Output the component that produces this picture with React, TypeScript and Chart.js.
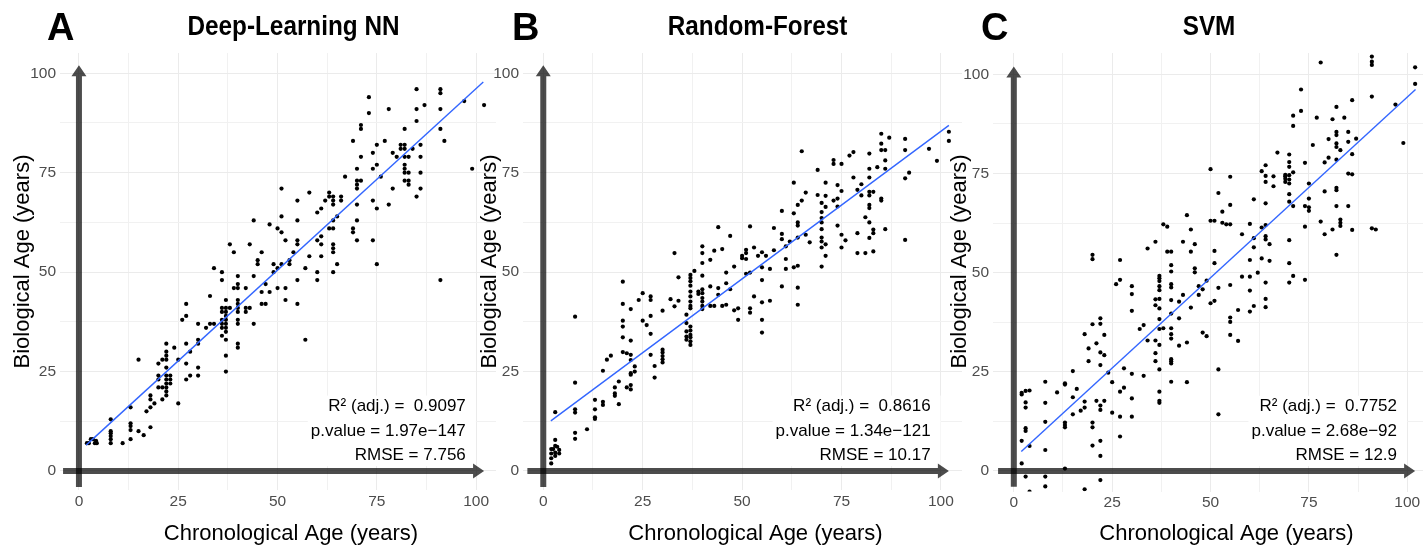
import React, { useEffect, useRef } from 'react';
import { Chart, registerables } from 'chart.js';

Chart.register(...registerables);

const FONT = '"Liberation Sans", Arial, Helvetica, sans-serif';
const PAGE_W = 1427;
const PAGE_H = 547;

const panelLetters = ['A', 'B', 'C'];
const panelTitles = ['Deep-Learning NN', 'Random-Forest', 'SVM'];
const xAxisTitle = 'Chronological Age (years)';
const yAxisTitle = 'Biological Age (years)';
const gridValues = [0, 12.5, 25, 37.5, 50, 62.5, 75, 87.5, 100];
const labelledTicks = [0, 25, 50, 75, 100];

// Deep-Learning NN: [chronological age, biological age]
const dnnPoints: [number, number][] = [
  [2, 7], [2.5, 7], [3, 8], [3.5, 8], [4, 7], [4.3, 7.6], [4.5, 7],
  [8, 13], [8, 10], [8, 9.5], [8, 8.8], [8, 8], [8, 7], [11, 7],
  [13, 16], [13, 12], [13, 11.3], [13, 10.3], [13, 8],
  [15, 28], [15, 10], [16.3, 9], [17, 15],
  [18, 19], [18, 18], [18, 16], [18, 11], [19, 17],
  [20, 27], [20, 24], [20, 23], [20, 21], [21, 21], [21, 18], [21, 28],
  [22, 32], [22, 30], [22, 29], [22, 28], [22, 26], [22, 24], [22, 23], [22, 22], [22, 21], [22, 20], [22, 19],
  [23, 24], [23, 23], [23, 22], [24, 31], [25, 17], [25, 28], [26, 38],
  [27, 42], [27, 39], [27, 32], [27, 27], [27, 23], [28, 24], [28, 30],
  [30, 37], [30, 33], [30, 32], [30, 26], [30, 24], [32, 36], [33, 44], [33, 37], [34, 37], [34, 51],
  [36, 50], [36, 48], [36, 41], [36, 40], [36, 38], [36, 37], [36, 36], [36, 34],
  [37, 43], [37, 41], [37, 40], [37, 39], [37, 38], [37, 37], [37, 36], [37, 35], [37, 33], [37, 29], [37, 25],
  [38, 57], [38, 41], [39, 55], [39, 46],
  [40, 49], [40, 47], [40, 46], [40, 43], [40, 42], [40, 41], [40, 40], [40, 38], [40, 37], [40, 32], [40, 31],
  [42, 46], [42, 41], [42, 40], [43, 41], [43, 57], [44, 63], [44, 49], [44, 37], [45, 53], [45, 52],
  [46, 55], [46, 45], [46, 42], [47, 42], [47, 47], [48, 62], [48, 45], [49, 52], [49, 50],
  [50, 61], [50, 51], [50, 46], [51, 64], [51, 60], [51, 52], [52, 58], [52, 46], [52, 43],
  [53, 53], [53, 52], [54, 55], [55, 68], [55, 63], [55, 58], [55, 57], [55, 48], [55, 42],
  [57, 33], [57, 51], [58, 54], [60, 65], [60, 58], [60, 50], [60, 48], [61, 66], [61, 59], [61, 57], [61, 54],
  [62, 68], [64, 68], [64, 67], [64, 63], [64, 61], [64, 57], [64, 56], [64, 55], [64, 50], [63, 61],
  [65, 64], [65, 52], [66, 68], [69, 61], [69, 60], [70, 67], [70, 63], [70, 58], [74, 68], [74, 58],
  [75, 66], [75, 52], [78, 67], [91, 48],
  [51, 71], [58, 70], [63, 70], [63, 69], [64, 69], [66, 69], [67, 74], [69, 83],
  [70, 76], [70, 73], [70, 72], [70, 71], [71, 73], [71, 79], [71, 87], [71, 86], [73, 94], [73, 90],
  [74, 80], [74, 76], [75, 82], [75, 77], [76, 74], [77, 83], [78, 91], [79, 80], [79, 71], [80, 79],
  [81, 82], [81, 81], [82, 86], [82, 82], [82, 81], [82, 79], [82, 77], [82, 76], [82, 75], [82, 73],
  [83, 79], [83, 75], [83, 73], [83, 72], [84, 81], [85, 96], [85, 91], [85, 88], [85, 69],
  [86, 82], [86, 79], [86, 75], [86, 71], [87, 92], [91, 96], [91, 95], [91, 91], [91, 86], [92, 83],
  [97, 93], [99, 76], [102, 92],
];

// Random-Forest
const rfPoints: [number, number][] = [
  [2, 5.5], [2, 4.4], [2, 3.2], [2, 1.9], [2.5, 5.5], [3, 3.8], [3, 6.3], [3, 7.8], [3, 4.6], [3.5, 6.1], [4, 5.3], [4, 4.4], [3, 14.8],
  [8, 38.8], [8, 22.2], [8, 15.5], [8, 14.7], [8, 9.6], [8, 8.1], [11, 10.5],
  [13, 17.9], [13, 15.5], [13, 13.5], [13, 13.1], [15, 25.2], [15, 17.4], [15, 16.6], [16, 28], [17, 29],
  [18, 21], [18, 19.5], [18, 18.9], [19, 16.8], [19, 22.5],
  [20, 47.6], [20, 42], [20, 37.8], [20, 36.3], [20, 33.6], [20, 29.9], [21, 29.6], [21, 21],
  [22, 40.7], [22, 32.8], [22, 29.2], [22, 27.9], [22, 24.6], [22, 24.2], [22, 21.6], [22, 20.5],
  [23, 26.3], [23, 25], [24, 43], [25, 44.7], [25, 37.8], [26, 36.7],
  [27, 43.9], [27, 43], [27, 39], [27, 34.5], [27, 29.2], [28, 26.4], [28, 23.5],
  [30, 40.3], [30, 30.5], [30, 29.8], [30, 28.9], [30, 28.1], [30, 27.3], [32, 43.2], [33, 54.8], [33, 41.4],
  [34, 48.7], [34, 42.8], [36, 39.3], [36, 37.2], [36, 35.1], [36, 33.8], [36, 33],
  [37, 49.3], [37, 48.5], [37, 47.7], [37, 46.6], [37, 45.1], [37, 43.9], [37, 42.6], [37, 41.5], [37, 40.9],
  [37, 36.3], [37, 35.3], [37, 34.2], [37, 33.6], [37, 32.6], [37, 31.7], [38, 50.3], [39, 45.1], [39, 44.5],
  [40, 56.5], [40, 54.8], [40, 52.3], [40, 49.1], [40, 45.7], [40, 44.7], [40, 43.5], [40, 42.6], [40, 41.5], [40, 40.7],
  [42, 53.1], [42, 46.4], [42, 41.5], [43, 41.5], [43, 55.4], [44, 61.3], [44, 46], [44, 44.3],
  [45, 55.8], [45, 41.5], [46, 41.8], [46, 49.9], [46, 47.2], [47, 59.1], [47, 45.7], [48, 51.4], [48, 40.4],
  [49, 40.9], [49, 38], [50, 54.1], [50, 53.5], [51, 55.6], [51, 54.8], [51, 53.3], [51, 49.6],
  [52, 61.5], [52, 49.9], [52, 40.9], [52, 39.8], [53, 56.2], [53, 43.9], [54, 54.1],
  [55, 55], [55, 51.2], [55, 48], [55, 42.4], [55, 38], [55, 34.8], [56, 54.1], [57, 50.8], [57, 42.8],
  [58, 61.1], [58, 55.5], [60, 65.4], [60, 59.6], [60, 58.3], [60, 46.4], [61, 56.5], [61, 53.3], [61, 50.8],
  [62, 57.7], [63, 64.8], [63, 51.2], [64, 66.9], [64, 62.5], [64, 61.7], [64, 58.7], [64, 51.6], [64, 46.1], [64, 41.8],
  [65, 68], [66, 59.4], [67, 57.5],
  [70, 67.4], [70, 65.1], [70, 63.6], [70, 62.5], [70, 60.8], [70, 58.7], [70, 57.7], [70, 56.2], [70, 51.4],
  [71, 57], [71, 54.1], [71, 66.4], [73, 68], [74, 61.7], [74, 66.5], [75, 59.4], [75, 56.2], [76, 58],
  [79, 59.8], [79, 54.8], [81, 54.8], [81, 63.8], [82, 66.9], [82, 66.1], [82, 62.5], [82, 58.6],
  [83, 60.7], [83, 59.8], [83, 55.2], [85, 68], [86, 60.8], [91, 58.1],
  [65, 80.4], [63, 72.5], [66, 70], [69, 75.7], [69, 69.4], [71, 72.5], [71, 69.2], [73, 78.2], [73, 77.2],
  [74, 71.9], [75, 77.2], [75, 70.4], [74, 68.5], [77, 79.3], [78, 80.2], [78, 73.8], [79, 70.7], [80, 72.1], [80, 69.3],
  [82, 79.8], [82, 76], [82, 73.8], [82, 70.2], [82, 69.3], [83, 70.2], [84, 76.4], [85, 84.8], [85, 82.3], [85, 80.7], [85, 68.5],
  [86, 80.7], [86, 78.1], [86, 76], [87, 83.8], [91, 83.5], [91, 80.7], [91, 73.6], [92, 75], [97, 81], [99, 78],
  [102, 85.3], [102, 83],
];

// SVM
const svmPoints: [number, number][] = [
  [2, 19.7], [2, 19.3], [2, 7.6], [2, 1.9], [3, 20.2], [3, 17.3], [3, 16], [3, 10.8], [3, 10.1], [3, -1.4],
  [4, 20.3], [4, 6.3], [4, -5.2], [8, 22.5], [8, 17.2], [8, 12.4], [8, 5.3], [8, -1.4], [8, -3.9], [11, 19.8],
  [13, 22.1], [13, 21.8], [13, 12.2], [13, 11.6], [13, 11], [13, 0.6], [15, 25.2], [15, 18.6], [15, 14.3],
  [16, 20.7], [17, 15.2], [18, 34.5], [18, 17.5], [18, 16], [18, -4.6], [19, 30.9], [19, 27.7],
  [20, 54.5], [20, 53.4], [20, 37], [20, 12.2], [20, 11], [20, 6.4], [21, 32.2], [21, 17.7],
  [22, 38.5], [22, 37.1], [22, 29.9], [22, 26.7], [22, 16.5], [22, 15.4], [22, 7.6], [22, 3.8], [22, -2.3],
  [23, 34.3], [23, 29.2], [23, 17.7], [24, 24.8], [25, 22.4], [25, 14.7], [26, 47.1],
  [27, 53.2], [27, 48.2], [27, 20], [27, 13.7], [27, 8.7], [28, 25.9], [28, 21],
  [30, 46.6], [30, 44.6], [30, 40.4], [30, 24.5], [30, 18.3], [30, 13.7], [32, 35.8], [33, 36.8], [33, 24],
  [34, 56.1], [34, 32.9], [36, 57.8], [36, 43.3], [36, 41.8], [36, 32.9], [36, 29.7], [36, 27.7],
  [37, 49.2], [37, 48.6], [37, 47.9], [37, 46.6], [37, 45.6], [37, 43.4], [37, 41], [37, 38.3], [37, 35.8],
  [37, 31.8], [37, 25.6], [37, 20], [37, 17.7], [37, 17.2], [38, 62.2], [39, 61.6], [39, 55.3], [38, 36],
  [40, 55.3], [40, 51.9], [40, 50.3], [40, 47.1], [40, 46.3], [40, 43.1], [40, 39.7], [40, 36], [40, 34.5],
  [40, 33.4], [40, 28.2], [40, 27.7], [40, 27.1], [40, 22.5], [42, 42.7], [42, 38.5], [42, 31.6],
  [43, 57.8], [43, 44.4], [44, 64.5], [44, 32.4], [44, 22.4], [45, 60.9], [45, 55.3], [45, 41.2],
  [46, 57.2], [46, 51.1], [46, 50.1], [47, 46.6], [47, 44.4], [48, 45.8], [48, 34.9], [49, 48], [49, 34],
  [50, 42.3], [50, 63.1], [51, 63.1], [51, 55.5], [51, 52.4], [51, 42.9], [52, 46.2], [52, 25.6], [52, 14.3],
  [53, 65.4], [53, 62.6], [54, 62.2], [55, 62.2], [55, 67.1], [55, 46.9], [55, 38.7], [55, 37.6], [55, 34.3],
  [57, 40.6], [57, 32.8], [58, 59.7], [58, 49], [60, 62.3], [60, 53.2], [60, 49], [60, 45.5], [60, 40.2],
  [61, 58.7], [61, 56.4], [61, 41.6], [62, 50], [63, 53.6], [63, 61.4],
  [64, 67.5], [64, 62], [64, 59.2], [64, 58.4], [64, 47.5], [64, 43.4], [64, 41.3], [65, 57.2], [65, 53],
  [70, 67.9], [70, 58.2], [70, 52.4], [70, 47.5], [71, 66.8], [71, 49.2], [74, 66.8], [74, 61.6], [74, 48.2],
  [75, 66.5], [75, 65.6], [78, 62.9], [79, 59.7], [81, 60.9], [82, 66.8], [82, 54.5],
  [83, 63.4], [83, 62.6], [83, 61.8], [85, 66.8], [86, 60.8], [91, 61.2], [92, 60.9],
  [50, 76.1], [52, 70.1], [55, 74.2], [61, 68.5], [63, 75.6], [64, 77.1], [64, 74.4], [64, 72.9], [66, 74.3], [66, 71.8],
  [67, 80.3], [69, 74.7], [69, 74.3], [69, 73.7], [69, 72.9], [70, 79.8], [70, 77.9], [70, 76.7], [70, 74.6], [70, 73.5],
  [70, 72.5], [70, 69.8], [71, 89.6], [71, 87], [71, 75.3], [73, 96.2], [73, 90.8], [74, 77.7], [75, 72.5], [75, 68.7],
  [76, 82.2], [77, 89.1], [78, 103], [79, 70.5], [79, 77.8], [80, 83.7], [80, 79], [81, 88.7],
  [82, 91.8], [82, 85.5], [82, 84.7], [82, 82.6], [82, 81.7], [82, 78.5], [82, 71.4], [82, 70.8], [83, 80.9], [84, 89.1],
  [85, 85.5], [85, 83], [85, 75], [86, 93.5], [86, 79.9], [86, 74.8], [87, 83.8],
  [91, 104.5], [91, 103.2], [91, 102.4], [91, 94.4], [97, 92.4], [99, 82.7], [102, 101.8], [102, 97.6],
];

// Linear fit line end points [x, y]
const dnnFit: [number, number][] = [[1.8, 6.5], [101.8, 97.8]];
const rfFit: [number, number][] = [[1.9, 12.6], [102, 86.9]];
const svmFit: [number, number][] = [[1.9, 4.9], [102.1, 96.2]];

const dnnStats = ['R\u00B2 (adj.) =  0.9097', 'p.value = 1.97e\u2212147', 'RMSE = 7.756'];
const rfStats = ['R\u00B2 (adj.) =  0.8616', 'p.value = 1.34e\u2212121', 'RMSE = 10.17'];
const svmStats = ['R\u00B2 (adj.) =  0.7752', 'p.value = 2.68e\u221292', 'RMSE = 12.9'];

const allPoints = [dnnPoints, rfPoints, svmPoints];
const allFits = [dnnFit, rfFit, svmFit];
const allStats = [dnnStats, rfStats, svmStats];

// Layout (page pixel positions)
type PanelLayout = {
  canvasLeft: number; canvasWidth: number;
  chartLeft: number; chartRight: number; chartTop: number; chartBottom: number;
  xMin: number; xMax: number; yMin: number; yMax: number;
  letterX: number; titleX: number; xTitleX: number; yTitleX: number;
};

const layouts: PanelLayout[] = [
  { canvasLeft: 0, canvasWidth: 500, chartLeft: 60, chartRight: 497, chartTop: 53, chartBottom: 490,
    xMin: -4.77, xMax: 105.0, yMin: -4.78, yMax: 105.1, letterX: 47, titleX: 293.5, xTitleX: 291, yTitleX: 29 },
  { canvasLeft: 470, canvasWidth: 500, chartLeft: 523, chartRight: 962, chartTop: 53, chartBottom: 490,
    xMin: -5.1, xMax: 105.3, yMin: -4.78, yMax: 105.1, letterX: 512, titleX: 757.5, xTitleX: 755.5, yTitleX: 496 },
  { canvasLeft: 940, canvasWidth: 487, chartLeft: 993, chartRight: 1427, chartTop: 53, chartBottom: 491.5,
    xMin: -5.29, xMax: 104.0, yMin: -5.17, yMax: 105.4, letterX: 981, titleX: 1209, xTitleX: 1226.5, yTitleX: 966 },
];

const STAT_X = 97.4;
const STAT_Y = [16.2, 10.1, 4.0];
const ARROW_START = -4;
const ARROW_END = 102;

function makeDecor(i: number) {
  const L = layouts[i];
  const off = L.canvasLeft;
  return {
    id: 'decor' + i,
    beforeDatasetsDraw(chart: any) {
      const ctx = chart.ctx as CanvasRenderingContext2D;
      const xs = chart.scales.x;
      const ys = chart.scales.y;
      ctx.save();
      // stats label with white box
      ctx.font = `17px ${FONT}`;
      const lines = allStats[i];
      const rx = xs.getPixelForValue(STAT_X);
      const ly = STAT_Y.map((v) => ys.getPixelForValue(v));
      const maxW = Math.max(...lines.map((l) => ctx.measureText(l).width));
      ctx.fillStyle = '#ffffff';
      ctx.fillRect(rx - maxW - 3, ly[0] - 11, maxW + 13, ly[2] - ly[0] + 22);
      ctx.fillStyle = '#000000';
      ctx.textAlign = 'right';
      ctx.textBaseline = 'middle';
      lines.forEach((l, k) => ctx.fillText(l, rx, ly[k]));

      // arrows
      ctx.fillStyle = 'rgba(0,0,0,0.7)';
      const half = 3;
      const headW = 7.5;
      const headL = 11;
      const x0 = xs.getPixelForValue(0);
      const y0 = ys.getPixelForValue(0);
      const hs = xs.getPixelForValue(ARROW_START);
      const ht = xs.getPixelForValue(ARROW_END);
      ctx.beginPath();
      ctx.moveTo(hs, y0 - half);
      ctx.lineTo(ht - headL, y0 - half);
      ctx.lineTo(ht - headL, y0 - headW);
      ctx.lineTo(ht, y0);
      ctx.lineTo(ht - headL, y0 + headW);
      ctx.lineTo(ht - headL, y0 + half);
      ctx.lineTo(hs, y0 + half);
      ctx.closePath();
      ctx.fill();
      const vs = ys.getPixelForValue(ARROW_START);
      const vt = ys.getPixelForValue(ARROW_END);
      ctx.beginPath();
      ctx.moveTo(x0 - half, vs);
      ctx.lineTo(x0 - half, vt + headL);
      ctx.lineTo(x0 - headW, vt + headL);
      ctx.lineTo(x0, vt);
      ctx.lineTo(x0 + headW, vt + headL);
      ctx.lineTo(x0 + half, vt + headL);
      ctx.lineTo(x0 + half, vs);
      ctx.closePath();
      ctx.fill();
      ctx.restore();
    },
    afterDraw(chart: any) {
      const ctx = chart.ctx as CanvasRenderingContext2D;
      ctx.save();
      ctx.fillStyle = '#000000';
      ctx.textBaseline = 'alphabetic';
      // panel letter
      ctx.font = `bold 38px ${FONT}`;
      ctx.textAlign = 'left';
      ctx.fillText(panelLetters[i], L.letterX - off, 39.5);
      // title (condensed bold)
      ctx.font = `bold 27px ${FONT}`;
      ctx.save();
      ctx.translate(L.titleX - off, 34.5);
      ctx.scale(0.9, 1);
      ctx.textAlign = 'center';
      ctx.fillText(panelTitles[i], 0, 0);
      ctx.restore();
      // axis titles
      ctx.font = `22px ${FONT}`;
      ctx.textAlign = 'center';
      ctx.fillText(xAxisTitle, L.xTitleX - off, 539.5);
      ctx.save();
      ctx.translate(L.yTitleX - off, 261.5);
      ctx.rotate(-Math.PI / 2);
      ctx.fillText(yAxisTitle, 0, 0);
      ctx.restore();
      ctx.restore();
    },
  };
}

function zeroPad(s: any) {
  s.paddingLeft = 0;
  s.paddingRight = 0;
  s.paddingTop = 0;
  s.paddingBottom = 0;
}

const gridColor = (c: any) => (c.tick && labelledTicks.includes(c.tick.value) ? '#ebebeb' : '#f1f1f1');

function Panel({ index }: { index: number }) {
  const ref = useRef<HTMLCanvasElement | null>(null);
  const L = layouts[index];
  useEffect(() => {
    if (!ref.current) return;
    const tickFont = { family: FONT, size: 15.5 };
    const chart = new Chart(ref.current, {
      type: 'scatter',
      data: {
        datasets: [
          {
            data: allFits[index].map(([x, y]) => ({ x, y })),
            showLine: true,
            borderColor: '#3366FF',
            borderWidth: 1.4,
            pointRadius: 0,
            fill: false,
            order: 0,
          } as any,
          {
            data: allPoints[index].map(([x, y]) => ({ x, y })),
            pointRadius: 2.1,
            pointBackgroundColor: '#000000',
            backgroundColor: '#000000',
            borderWidth: 0,
            pointBorderWidth: 0,
            order: 1,
          } as any,
        ],
      },
      options: {
        animation: false,
        responsive: false,
        maintainAspectRatio: false,
        devicePixelRatio: 1,
        events: [],
        layout: {
          padding: {
            top: L.chartTop,
            right: L.canvasLeft + L.canvasWidth - L.chartRight,
            left: 0,
            bottom: 0,
          },
        },
        plugins: {
          legend: { display: false },
          tooltip: { enabled: false },
          title: { display: false },
        },
        scales: {
          x: {
            type: 'linear',
            position: 'bottom',
            min: L.xMin,
            max: L.xMax,
            afterBuildTicks: (s: any) => {
              s.ticks = gridValues.map((v) => ({ value: v }));
            },
            afterFit: (s: any) => {
              s.height = PAGE_H - L.chartBottom;
              zeroPad(s);
            },
            grid: { color: gridColor, lineWidth: 1, drawTicks: false },
            border: { display: false },
            ticks: {
              autoSkip: false,
              maxRotation: 0,
              minRotation: 0,
              padding: 2,
              color: '#4d4d4d',
              font: tickFont,
              callback: (v: any) => (labelledTicks.includes(Number(v)) ? String(v) : ''),
            },
          },
          y: {
            type: 'linear',
            min: L.yMin,
            max: L.yMax,
            afterBuildTicks: (s: any) => {
              s.ticks = gridValues.map((v) => ({ value: v }));
            },
            afterFit: (s: any) => {
              s.width = L.chartLeft - L.canvasLeft;
              zeroPad(s);
            },
            grid: { color: gridColor, lineWidth: 1, drawTicks: false },
            border: { display: false },
            ticks: {
              autoSkip: false,
              padding: 4,
              color: '#4d4d4d',
              font: tickFont,
              callback: (v: any) => (labelledTicks.includes(Number(v)) ? String(v) : ''),
            },
          },
        },
      } as any,
      plugins: [makeDecor(index)],
    });
    return () => chart.destroy();
  }, [index]);
  return (
    <canvas
      ref={ref}
      width={L.canvasWidth}
      height={PAGE_H}
      style={{ position: 'absolute', left: L.canvasLeft, top: 0, width: L.canvasWidth, height: PAGE_H }}
    />
  );
}

export default function App() {
  return (
    <div
      style={{
        position: 'fixed',
        left: 0,
        top: 0,
        width: PAGE_W,
        height: PAGE_H,
        background: '#ffffff',
        overflow: 'hidden',
      }}
    >
      <Panel index={0} />
      <Panel index={1} />
      <Panel index={2} />
    </div>
  );
}
